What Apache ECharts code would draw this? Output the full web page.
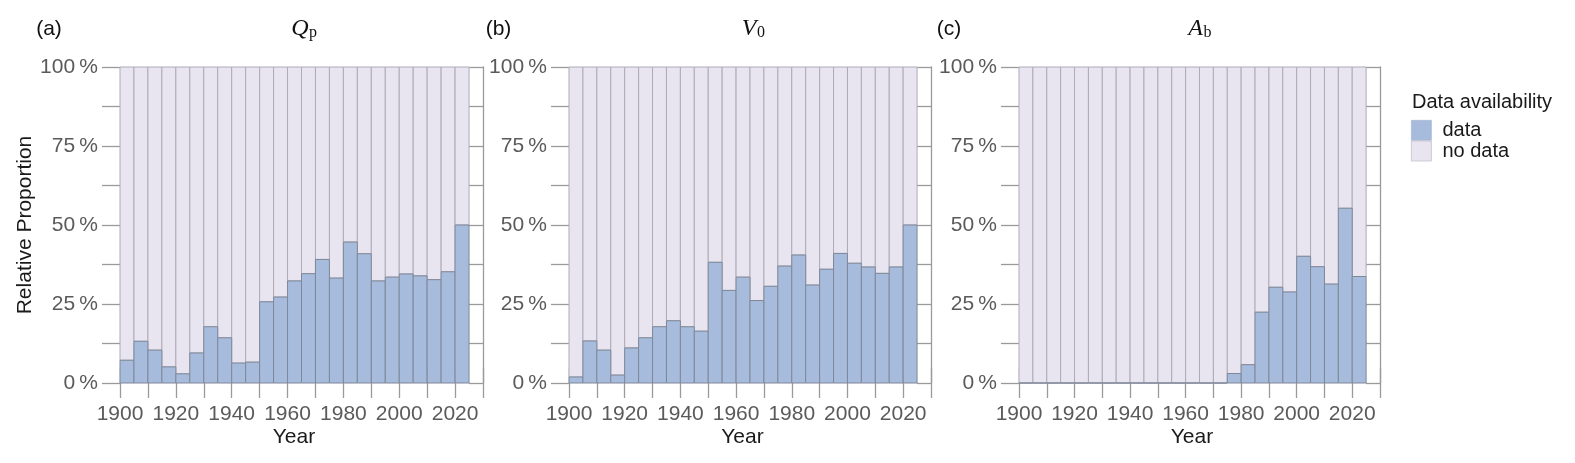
<!DOCTYPE html>
<html><head><meta charset="utf-8">
<script src="https://cdn.jsdelivr.net/npm/echarts@6/dist/echarts.min.js"></script>
<style>html,body{margin:0;padding:0;background:#fff}#c{width:1575px;height:463px}</style>
</head><body><div id="c"></div>
<script>
// ---- data ----
const binStarts = [1900,1905,1910,1915,1920,1925,1930,1935,1940,1945,1950,1955,1960,1965,1970,1975,1980,1985,1990,1995,2000,2005,2010,2015,2020];
const binWidth = 5;
const qpData = [7.2,13.2,10.4,5.1,2.9,9.5,17.8,14.3,6.3,6.6,25.7,27.2,32.3,34.6,39.1,33.2,44.6,40.9,32.3,33.5,34.5,33.9,32.7,35.2,50.0];
const v0Data = [1.9,13.3,10.4,2.5,11.1,14.3,17.8,19.7,17.8,16.4,38.2,29.3,33.5,26.1,30.6,37.0,40.5,31.0,36.0,41.0,37.9,36.7,34.7,36.7,50.0];
const abData = [0,0,0,0,0,0,0,0,0,0,0,0,0,0,0,3.0,5.8,22.4,30.3,28.8,40.1,36.8,31.3,55.3,33.7];
const xLabelYears = [1900,1920,1940,1960,1980,2000,2020];
const yLabelValues = [0,25,50,75,100];
const seriesNames = ['data','no data'];
const panelTags = ['(a)','(b)','(c)'];
const panelSymbols = [['Q','p'],['V','0'],['A','b']];
const panelValues = [qpData, v0Data, abData];

// ---- layout / style ----
const SANS = 'Liberation Sans, Arial, sans-serif';
const SERIF = 'Liberation Serif, Times New Roman, serif';
const COL_DATA = '#a7bcdc', COL_NODATA = '#e8e5f0';
const STROKE_DATA = '#7f8898', STROKE_NODATA = '#aeabb8';
const TICK = '#9a9a9a';
const panelBox = [{l:120,r:483},{l:569,r:931},{l:1019,r:1380}];

const grids = [], xAxes = [], yAxes = [], series = [], graphics = [];

function rectItem(fill, stroke){
  return function(params, api){
    const a = api.coord([api.value(0), api.value(3)]);
    const b = api.coord([api.value(1), api.value(2)]);
    return {type:'rect', shape:{x:a[0], y:a[1], width:b[0]-a[0], height:b[1]-a[1]},
      style:{fill:fill, stroke:stroke, lineWidth:1}};
  };
}

panelBox.forEach((p, i) => {
  grids.push({left:p.l, top:67, width:p.r-p.l, height:316});
  const xBase = {gridIndex:i, type:'value', min:1900, max:2030, interval:10,
    axisLine:{show:false}, splitLine:{show:false},
    axisTick:{show:true, inside:false, length:15, lineStyle:{color:TICK, width:1.3}}};
  xAxes.push(Object.assign({}, xBase, {position:'bottom',
    axisLabel:{show:true, fontSize:21, fontFamily:SANS, color:'#5a5a5a', margin:21,
      formatter: v => xLabelYears.includes(v) ? String(v) : ''}}));
  xAxes.push(Object.assign({}, xBase, {position:'top', axisLabel:{show:false}}));
  yAxes.push({gridIndex:i, type:'value', min:0, max:100, interval:12.5, position:'left',
    axisLine:{show:false}, splitLine:{show:false},
    axisTick:{show:true, inside:false, length:18, lineStyle:{color:TICK, width:1.3}},
    axisLabel:{show:true, fontSize:21, fontFamily:SANS, color:'#5a5a5a', margin:22,
      formatter: v => yLabelValues.includes(v) ? v + '\u2009%' : ''}});
  yAxes.push({gridIndex:i, type:'value', min:0, max:100, interval:12.5, position:'right',
    axisLine:{show:true, lineStyle:{color:TICK, width:1.3}}, splitLine:{show:false},
    axisTick:{show:true, inside:true, length:14, lineStyle:{color:TICK, width:1.3}},
    axisLabel:{show:false}});

  const vals = panelValues[i];
  series.push({type:'custom', name:seriesNames[1], xAxisIndex:2*i, yAxisIndex:2*i,
    itemStyle:{color:COL_NODATA}, encode:{x:[0,1], y:[2,3]},
    renderItem: rectItem(COL_NODATA, STROKE_NODATA),
    data: binStarts.map((s,k) => [s, s+binWidth, vals[k], 100])});
  series.push({type:'custom', name:seriesNames[0], xAxisIndex:2*i, yAxisIndex:2*i,
    itemStyle:{color:COL_DATA}, encode:{x:[0,1], y:[2,3]},
    renderItem: rectItem(COL_DATA, STROKE_DATA),
    data: binStarts.map((s,k) => [s, s+binWidth, 0, vals[k]])});

  const cx = (p.l + p.r) / 2;
  const frameCx = cx - 7.5;
  graphics.push({type:'text', x:[49,498.5,949][i], y:29,
    style:{text:panelTags[i], fontSize:21, fontFamily:SANS, fill:'#111', align:'center', verticalAlign:'middle'}});
  const subX = [308.5, 756.5, 1203][i];
  graphics.push({type:'text', x:subX, y:29,
    style:{text:panelSymbols[i][0], fontSize:24, fontStyle:'italic', fontFamily:SERIF, fill:'#111', align:'right', verticalAlign:'middle'}});
  graphics.push({type:'text', x:subX+0.5, y:32.5,
    style:{text:panelSymbols[i][1], fontSize:16, fontFamily:SERIF, fill:'#111', align:'left', verticalAlign:'middle'}});
  graphics.push({type:'text', x:frameCx, y:437,
    style:{text:'Year', fontSize:21, fontFamily:SANS, fill:'#1a1a1a', align:'center', verticalAlign:'middle'}});
});

graphics.push({type:'text', x:25, y:225, rotation:Math.PI/2,
  style:{text:'Relative Proportion', fontSize:21, fontFamily:SANS, fill:'#1a1a1a', align:'center', verticalAlign:'middle'}});
graphics.push({type:'text', x:1412, y:102,
  style:{text:'Data availability', fontSize:20, fontFamily:SANS, fill:'#1a1a1a', align:'left', verticalAlign:'middle'}});

const chart = echarts.init(document.getElementById('c'), null, {renderer:'canvas'});
chart.setOption({
  animation:false,
  backgroundColor:'#fff',
  grid: grids, xAxis: xAxes, yAxis: yAxes, series: series, graphic: graphics,
  legend:{show:true, orient:'vertical', left:1411, top:120, padding:0,
    itemWidth:20, itemHeight:20, itemGap:0, icon:'rect',
    textStyle:{fontSize:20, fontFamily:SANS, color:'#1a1a1a', padding:[0,0,0,6]},
    data:[
      {name:seriesNames[0], itemStyle:{color:COL_DATA, borderColor:'#9fb0cc', borderWidth:0.6}},
      {name:seriesNames[1], itemStyle:{color:COL_NODATA, borderColor:'#c4c1cc', borderWidth:0.8}}
    ]}
});
</script></body></html>
